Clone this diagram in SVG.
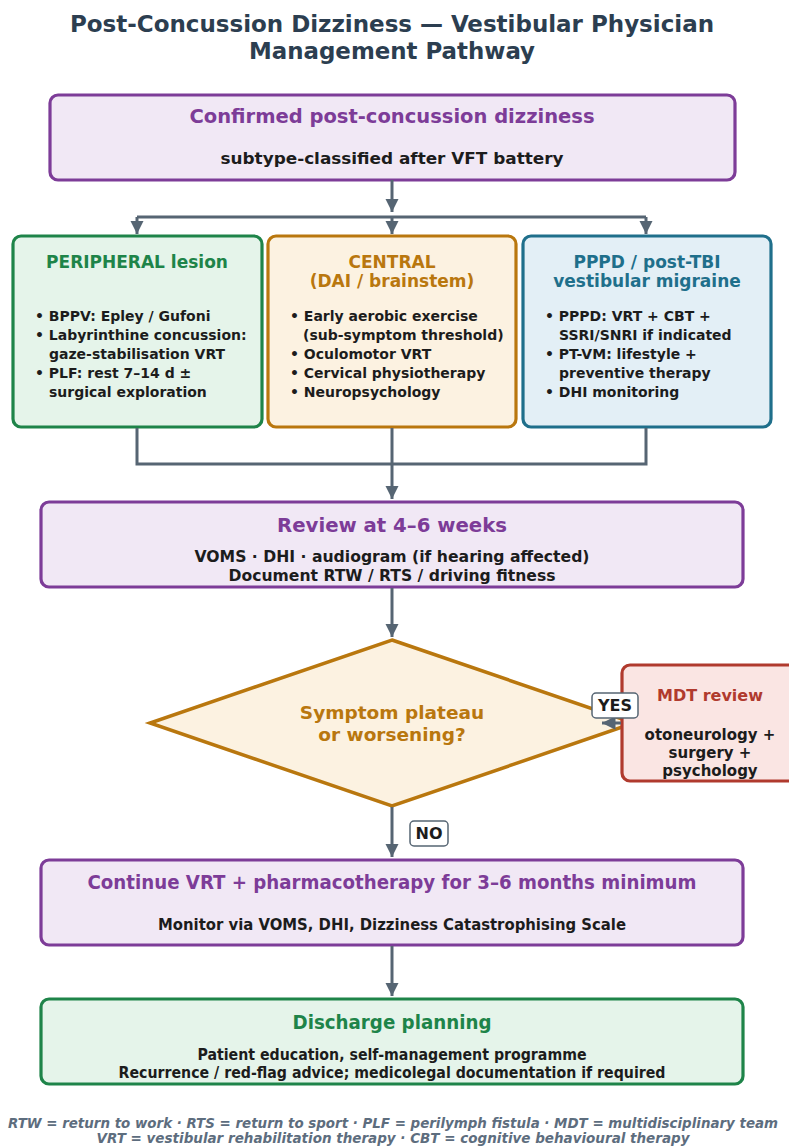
<svg xmlns="http://www.w3.org/2000/svg" width="789" height="1147" viewBox="0 0 789 1147">
<style>
text{font-family:"DejaVu Sans","Liberation Sans",sans-serif;font-weight:bold;}
.cd{font-family:"DejaVu Sans Condensed","DejaVu Sans","Liberation Sans",sans-serif;font-stretch:condensed;}
.c{text-anchor:middle;}
.title{font-size:23.5px;fill:#2c3e50;}
.box{stroke-width:3.2;}
.pur{fill:#f1e8f5;stroke:#7d3c98;}
.grn{fill:#e5f4ea;stroke:#1e8449;}
.org{fill:#fcf2e1;stroke:#b9770e;}
.blu{fill:#e3eff6;stroke:#1f6f8b;}
.red{fill:#fae5e3;stroke:#b03a2e;}
.tp{fill:#7d3c98;font-size:20px;}
.tg{fill:#1e8449;}
.to{fill:#b9770e;}
.tb{fill:#1f6f8b;}
.tr{fill:#b03a2e;}
.h{font-size:17px;}
.d{fill:#1c1c1c;font-size:16px;}
.m{fill:#1c1c1c;font-size:15px;}
.b{fill:#1c1c1c;font-size:14px;}
.conn{stroke:#566573;stroke-width:3;fill:none;}
.lbl{fill:#ffffff;stroke:#566573;stroke-width:1.5;}
.foot{fill:#5d6d7e;font-size:14px;font-style:italic;}
</style>
<defs>
<marker id="ah" viewBox="0 0 10 10" refX="10" refY="5" markerWidth="4.5" markerHeight="4.5" orient="auto" markerUnits="strokeWidth">
<path d="M0,0 L10,5 L0,10 z" fill="#566573"/>
</marker>
</defs>
<rect width="789" height="1147" fill="#ffffff"/>
<g id="title">
<text class="cd title c" x="392" y="32" textLength="644" lengthAdjust="spacingAndGlyphs">Post-Concussion Dizziness — Vestibular Physician</text>
<text class="cd title c" x="392" y="59" textLength="286" lengthAdjust="spacingAndGlyphs">Management Pathway</text>
</g>
<g id="n-confirmed">
<rect class="box pur" x="50" y="95" width="685" height="85" rx="8"/>
<text class="cd tp c" x="392" y="123" textLength="405" lengthAdjust="spacingAndGlyphs">Confirmed post-concussion dizziness</text>
<text class="cd d c" x="392" y="164" textLength="343" lengthAdjust="spacingAndGlyphs">subtype-classified after VFT battery</text>
</g>
<g id="n-peripheral">
<rect class="box grn" x="13" y="236" width="249" height="191" rx="8"/>
<text class="tg h c" x="137" y="268">PERIPHERAL lesion</text>
<text class="b" x="35" y="321">• BPPV: Epley / Gufoni</text>
<text class="b" x="35" y="340">• Labyrinthine concussion:</text>
<text class="b" x="49" y="359">gaze-stabilisation VRT</text>
<text class="b" x="35" y="378">• PLF: rest 7–14 d ±</text>
<text class="b" x="49" y="397">surgical exploration</text>
</g>
<g id="n-central">
<rect class="box org" x="268" y="236" width="248" height="191" rx="8"/>
<text class="to h c" x="392" y="268">CENTRAL</text>
<text class="to h c" x="392" y="287">(DAI / brainstem)</text>
<text class="b" x="290" y="321">• Early aerobic exercise</text>
<text class="b" x="303" y="340">(sub-symptom threshold)</text>
<text class="b" x="290" y="359">• Oculomotor VRT</text>
<text class="b" x="290" y="378">• Cervical physiotherapy</text>
<text class="b" x="290" y="397">• Neuropsychology</text>
</g>
<g id="n-pppd">
<rect class="box blu" x="523" y="236" width="248" height="191" rx="8"/>
<text class="tb h c" x="647" y="268">PPPD / post-TBI</text>
<text class="tb h c" x="647" y="287">vestibular migraine</text>
<text class="b" x="545" y="321">• PPPD: VRT + CBT +</text>
<text class="b" x="559" y="340">SSRI/SNRI if indicated</text>
<text class="b" x="545" y="359">• PT-VM: lifestyle +</text>
<text class="b" x="559" y="378">preventive therapy</text>
<text class="b" x="545" y="397">• DHI monitoring</text>
</g>
<g id="n-review">
<rect class="box pur" x="41" y="502" width="702" height="85" rx="8"/>
<text class="cd tp c" x="392" y="532" textLength="230" lengthAdjust="spacingAndGlyphs">Review at 4–6 weeks</text>
<text class="cd d c" x="392" y="562" textLength="395" lengthAdjust="spacingAndGlyphs">VOMS · DHI · audiogram (if hearing affected)</text>
<text class="cd d c" x="392" y="581" textLength="327" lengthAdjust="spacingAndGlyphs">Document RTW / RTS / driving fitness</text>
</g>
<g id="n-decision">
<polygon points="392,640 634,723 392,806 150,723" fill="#fcf2e1" stroke="#b9770e" stroke-width="3.5" stroke-linejoin="miter"/>
<text class="to c" style="font-size:18.5px" x="392" y="719">Symptom plateau</text>
<text class="to c" style="font-size:18.5px" x="392" y="741">or worsening?</text>
</g>
<g id="n-mdt">
<rect class="box red" x="622" y="665" width="175" height="116" rx="8"/>
<text class="tr c" style="font-size:16px" x="710" y="701">MDT review</text>
<text class="m c" x="710" y="740">otoneurology +</text>
<text class="m c" x="710" y="758">surgery +</text>
<text class="m c" x="710" y="776">psychology</text>
</g>
<g id="n-continue">
<rect class="box pur" x="41" y="860" width="702" height="85" rx="8"/>
<text class="cd tp c" x="392" y="889" textLength="609" lengthAdjust="spacingAndGlyphs">Continue VRT + pharmacotherapy for 3–6 months minimum</text>
<text class="cd d c" x="392" y="930" textLength="468" lengthAdjust="spacingAndGlyphs">Monitor via VOMS, DHI, Dizziness Catastrophising Scale</text>
</g>
<g id="n-discharge">
<rect class="box grn" x="41" y="999" width="702" height="85" rx="8"/>
<text class="cd tg c" style="font-size:20px" x="392" y="1029" textLength="199" lengthAdjust="spacingAndGlyphs">Discharge planning</text>
<text class="cd d c" x="392" y="1060" textLength="389" lengthAdjust="spacingAndGlyphs">Patient education, self-management programme</text>
<text class="cd d c" x="392" y="1078" textLength="547" lengthAdjust="spacingAndGlyphs">Recurrence / red-flag advice; medicolegal documentation if required</text>
</g>
<g id="connectors">
<line class="conn" x1="392" y1="180" x2="392" y2="212" marker-end="url(#ah)"/>
<line class="conn" x1="137" y1="217" x2="646" y2="217"/>
<line class="conn" x1="137" y1="217" x2="137" y2="234" marker-end="url(#ah)"/>
<line class="conn" x1="392" y1="217" x2="392" y2="234" marker-end="url(#ah)"/>
<line class="conn" x1="646" y1="217" x2="646" y2="234" marker-end="url(#ah)"/>
<polyline class="conn" points="137,428 137,464 646,464 646,428"/>
<line class="conn" x1="392" y1="428" x2="392" y2="499" marker-end="url(#ah)"/>
<line class="conn" x1="392" y1="588" x2="392" y2="637" marker-end="url(#ah)"/>
<line class="conn" x1="392" y1="807" x2="392" y2="857" marker-end="url(#ah)"/>
<line class="conn" x1="392" y1="946" x2="392" y2="996" marker-end="url(#ah)"/>
<line class="conn" x1="621" y1="723" x2="602" y2="723" marker-end="url(#ah)"/>
</g>
<g id="labels">
<rect class="lbl" x="592" y="693" width="46" height="25" rx="4"/>
<text class="c" style="font-size:16px;fill:#1c1c1c" x="615" y="711">YES</text>
<rect class="lbl" x="410" y="821" width="38" height="25" rx="4"/>
<text class="c" style="font-size:16px;fill:#1c1c1c" x="429" y="839">NO</text>
</g>
<g id="footer">
<text class="cd foot c" x="393" y="1128" textLength="770" lengthAdjust="spacingAndGlyphs">RTW = return to work · RTS = return to sport · PLF = perilymph fistula · MDT = multidisciplinary team</text>
<text class="cd foot c" x="393" y="1143" textLength="593" lengthAdjust="spacingAndGlyphs">VRT = vestibular rehabilitation therapy · CBT = cognitive behavioural therapy</text>
</g>
</svg>
